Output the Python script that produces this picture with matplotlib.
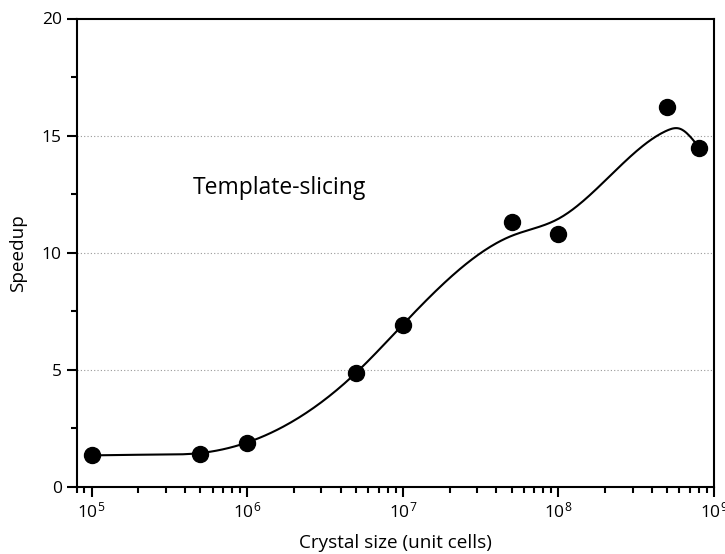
import numpy as np
import matplotlib
matplotlib.use("Agg")
import matplotlib.pyplot as plt
from matplotlib.ticker import FixedLocator, LogLocator, NullFormatter, FuncFormatter

plt.rcParams['font.family'] = ['Open Sans', 'DejaVu Sans']
plt.rcParams['mathtext.fontset'] = 'custom'
plt.rcParams['mathtext.rm'] = 'Open Sans'
plt.rcParams['mathtext.it'] = 'Open Sans:italic'
plt.rcParams['mathtext.bf'] = 'Open Sans:bold'

# Data
crystal_size = [1e5, 5e5, 1e6, 5e6, 1e7, 5e7, 1e8, 5e8, 8e8]
speedup = [1.38, 1.40, 1.86, 4.87, 6.93, 11.30, 10.78, 16.21, 14.48]
# smoothed fit curve
fit_size = [1e5, 2.5e5, 5e5, 1e6, 5e6, 1e7, 5e7, 1e8, 5e8, 6e8, 8e8]
fit_speedup = [1.35, 1.38, 1.45, 1.90, 4.87, 6.93, 10.72, 11.45, 15.22, 15.3, 14.50]
y_ticks = [0, 5, 10, 15, 20]
annotation = "Template-slicing"


def natural_spline(xk, yk, xs):
    xk = np.asarray(xk, float)
    yk = np.asarray(yk, float)
    n = len(xk)
    h = np.diff(xk)
    A = np.zeros((n, n))
    b = np.zeros(n)
    A[0, 0] = 1
    A[-1, -1] = 1
    for i in range(1, n - 1):
        A[i, i - 1] = h[i - 1]
        A[i, i] = 2 * (h[i - 1] + h[i])
        A[i, i + 1] = h[i]
        b[i] = 6 * ((yk[i + 1] - yk[i]) / h[i] - (yk[i] - yk[i - 1]) / h[i - 1])
    M = np.linalg.solve(A, b)
    ys = np.empty_like(xs)
    for j, x in enumerate(xs):
        i = np.searchsorted(xk, x) - 1
        i = min(max(i, 0), n - 2)
        t1 = xk[i + 1] - x
        t0 = x - xk[i]
        hi = h[i]
        ys[j] = (M[i] * t1 ** 3 / (6 * hi) + M[i + 1] * t0 ** 3 / (6 * hi)
                 + (yk[i] / hi - M[i] * hi / 6) * t1
                 + (yk[i + 1] / hi - M[i + 1] * hi / 6) * t0)
    return ys


fig = plt.figure(figsize=(7.25, 5.54), dpi=100)
ax = fig.add_axes([76.5 / 725, 1 - 487 / 554, (714 - 76.5) / 725, (487 - 18.5) / 554])

lx = np.log10(fit_size)
xs = np.linspace(lx[0], lx[-1], 400)
ys = natural_spline(lx, fit_speedup, xs)
ax.plot(10 ** xs, ys, color='black', lw=1.5, zorder=3)
ax.plot(crystal_size, speedup, 'o', color='black', markersize=11.5, zorder=4)

ax.set_xscale('log')
ax.set_xlim(8e4, 1e9)
ax.set_ylim(0, 20)

ax.xaxis.set_major_locator(LogLocator(base=10, numticks=20))
ax.xaxis.set_minor_locator(LogLocator(base=10, subs=np.arange(2, 10), numticks=20))
ax.xaxis.set_minor_formatter(NullFormatter())
ax.xaxis.set_major_formatter(FuncFormatter(lambda v, p: r'$\mathregular{10^{%d}}$' % round(np.log10(v))))
ax.yaxis.set_major_locator(FixedLocator(y_ticks))
ax.yaxis.set_minor_locator(FixedLocator([2.5, 7.5, 12.5, 17.5]))

for v in y_ticks[1:-1]:
    ax.axhline(v, color='#999999', lw=0.8, ls=(0, (1, 2)), zorder=1)

ax.tick_params(axis='both', which='major', direction='out', length=7, width=1.5, labelsize=12.5, colors='black')
ax.tick_params(axis='both', which='minor', direction='out', length=4, width=1.5)
for s in ax.spines.values():
    s.set_linewidth(1.5)

ax.set_xlabel('Crystal size (unit cells)', fontsize=13.6, labelpad=9)
ax.set_ylabel('Speedup', fontsize=13.6, labelpad=11)
ax.text(0.183, 0.638, annotation, transform=ax.transAxes, fontsize=16.5, va='center', ha='left')

fig.savefig('out.png', dpi=100)
